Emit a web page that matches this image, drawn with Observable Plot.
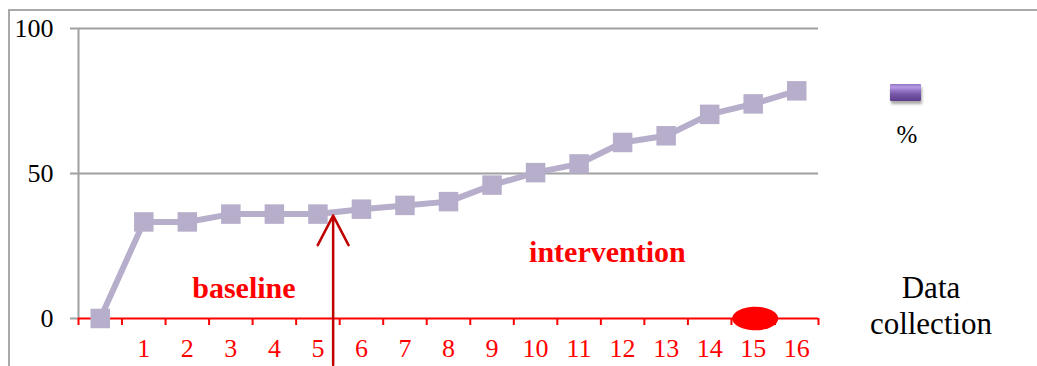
<!DOCTYPE html>
<html>
<head>
<meta charset="utf-8">
<script src="https://cdn.jsdelivr.net/npm/d3@7"></script>
<script src="https://cdn.jsdelivr.net/npm/@observablehq/plot@0.6"></script>
<style>
  html, body { margin: 0; padding: 0; background: #fff; }
  #wrap { position: relative; width: 1037px; height: 366px; overflow: hidden; font-family: "Palatino Linotype", "Book Antiqua", Palatino, "Liberation Serif", serif; }
  #frame { position: absolute; left: 8px; top: 9px; width: 1100px; height: 400px; border-top: 2px solid #a9a9a9; border-left: 2px solid #a9a9a9; }
  #chart { position: absolute; left: 0; top: 0; }
  .key { position: absolute; left: 890px; top: 84px; width: 31px; height: 17px; background: linear-gradient(#9072c4 0%, #b89be6 18%, #9576c8 38%, #7757a8 60%, #5b3e8a 100%); box-shadow: 1px 3px 3px rgba(0,0,0,0.35); border-radius: 1px; }
  .pct { position: absolute; left: 880px; top: 121px; width: 54px; text-align: center; font-size: 25px; color: #000; }
  .xtitle { position: absolute; left: 856px; top: 270px; width: 150px; text-align: center; font-size: 31px; line-height: 36px; color: #000; }
</style>
</head>
<body>
<div id="wrap">
  <div id="frame"></div>
  <div id="chart"></div>
  <div class="key"></div>
  <div class="pct">%</div>
  <div class="xtitle">Data<br>collection</div>
</div>
<script>
// Data collection sessions (0 = starting point, unlabeled) and the % scored at each
const sessions = [0, 1, 2, 3, 4, 5, 6, 7, 8, 9, 10, 11, 12, 13, 14, 15, 16];
const percent = [0, 33.3, 33.3, 36, 36, 36, 37.7, 39, 40.3, 46, 50.3, 53.3, 60.7, 63, 70.4, 74, 78.5];
const sessionLabels = ["", "1", "2", "3", "4", "5", "6", "7", "8", "9", "10", "11", "12", "13", "14", "15", "16"];
const yTicks = [0, 50, 100];

// Phase annotations and markers
const phaseNames = ["baseline", "intervention"];
const phaseX = [3.3, 11.65];
const phaseY = [10.4, 22.7];
const phaseChange = {x: 5.35, yFrom: -16, yTo: 35.5};
const highlightedSession = 15;

const rows = sessions.map((s, i) => ({session: s, value: percent[i]}));
const phases = phaseNames.map((name, i) => ({name, x: phaseX[i], y: phaseY[i]}));

// Ellipse symbol (wider than tall) built from Bézier quarter arcs
const ellipse = {
  draw(context, size) {
    const r = Math.sqrt(size / Math.PI);
    const rx = 1.95 * r, ry = r, k = 0.5523;
    context.moveTo(rx, 0);
    context.bezierCurveTo(rx, ry * k, rx * k, ry, 0, ry);
    context.bezierCurveTo(-rx * k, ry, -rx, ry * k, -rx, 0);
    context.bezierCurveTo(-rx, -ry * k, -rx * k, -ry, 0, -ry);
    context.bezierCurveTo(rx * k, -ry, rx, -ry * k, rx, 0);
    context.closePath();
  }
};

const serif = "'Palatino Linotype', 'Book Antiqua', Palatino, 'Liberation Serif', serif";
const lineColor = "#b7aecb";

const chart = Plot.plot({
  width: 1037,
  height: 366,
  marginLeft: 78,
  marginRight: 219,
  marginTop: 28,
  marginBottom: 48,
  style: {fontFamily: serif, background: "transparent", overflow: "visible"},
  x: {domain: [-0.5, 16.5], axis: null},
  y: {domain: [0, 100], axis: null},
  marks: [
    // horizontal gridlines and the vertical value axis line
    Plot.ruleY(yTicks.filter(d => d > 0), {stroke: "#a0a0a0", strokeWidth: 2}),
    Plot.ruleX([-0.5], {stroke: "#a0a0a0", strokeWidth: 2}),
    Plot.axisY({ticks: yTicks, tickSize: 8, tickPadding: 17, stroke: "#a0a0a0", strokeWidth: 2, fill: "#000", fontSize: 26, tickFormat: d => String(d)}),
    // red category axis: boundary ticks plus session labels
    Plot.ruleY([0], {stroke: "red", strokeWidth: 2}),
    Plot.axisX({ticks: d3.range(-0.5, 17, 1), tickSize: 7, stroke: "red", strokeWidth: 2, tickFormat: () => ""}),
    Plot.axisX({ticks: sessions, tickSize: 0, tickPadding: 20, fill: "red", fontSize: 26, tickFormat: d => sessionLabels[d]}),
    // phase labels
    Plot.text(phases, {x: "x", y: "y", text: "name", fill: "red", fontWeight: "bold", fontSize: 30}),
    // series
    Plot.line(rows, {x: "session", y: "value", stroke: lineColor, strokeWidth: 6}),
    Plot.dot(rows, {x: "session", y: "value", symbol: "square", r: 11, fill: lineColor}),
    // phase change arrow
    Plot.arrow([phaseChange], {x1: "x", x2: "x", y1: "yFrom", y2: "yTo", stroke: "#c00000", strokeWidth: 2.5, headLength: 20, headAngle: 55}),
    // highlighted session marker
    Plot.dot([highlightedSession], {x: d => d, y: 0, dx: 2, symbol: ellipse, r: 11.8, fill: "red"})
  ]
});
document.getElementById("chart").appendChild(chart);
</script>
</body>
</html>
